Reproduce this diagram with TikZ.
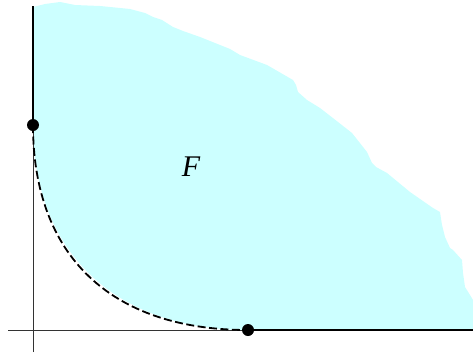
\documentclass[tikz,border=0pt]{standalone}
\usepackage{fontspec}
\newfontfamily\labelfont{Liberation Serif}
\usepackage{xcolor}
\usepackage{tikz}
\usetikzlibrary{positioning}
\definecolor{feasible}{RGB}{204,255,255}

\begin{document}
\begin{tikzpicture}[
  x=1pt,y=-1pt,
  axis/.style={line width=0.7pt,black!80},
  thickline/.style={line width=2.4pt,line cap=butt},
  frontier/.style={line width=1.8pt,dash pattern=on 8pt off 3.5pt},
  dot/.style={circle,fill=black,inner sep=0pt,minimum size=12pt},
]
\useasboundingbox (0,0) rectangle (473,356);

% Punkte und Achsenenden
\coordinate (ytop) at (33,6);
\coordinate (ybot) at (33,352);
\coordinate (xleft) at (8,330);
\coordinate (xright) at (473,330);
\coordinate (a) at (33,125);
\coordinate (b) at (248,330);

% zulaessige Menge
\fill[feasible] (b) .. controls (113,330) and (33,250) .. (a)
  -- (33,7) -- (45,4) -- (60,2) -- (75,5) -- (100,6) -- (130,9)
  -- (145,13) -- (153,17) -- (162,20) -- (173,27) -- (183,31)
  -- (200,37) -- (230,49) -- (240,55) -- (267,65) -- (293,80)
  -- (296,85) -- (298,92) -- (307,100) -- (320,108) -- (338,122)
  -- (352,133) -- (367,152) -- (372,163) -- (376,167) -- (387,173)
  -- (410,192) -- (433,208) -- (440,212) -- (442,225) -- (445,237)
  -- (450,248) -- (453,250) -- (462,260) -- (463,273) -- (465,287)
  -- (470,295) -- (473,300) -- (xright) -- cycle;

% Achsen
\draw[axis] (ybot) -- (ytop);
\draw[axis] (xleft) -- (xright);

% Rand
\draw[thickline] (ytop) -- (a);
\draw[thickline] (b) -- (xright);
\draw[frontier] (a) .. controls (33,255) and (110,330) .. (b);

\node[dot] (p1) at (a) {};
\node[dot] (p2) at (b) {};

\node[font=\labelfont\itshape\fontsize{30}{34}\selectfont] (F) at (191,167) {F};

\end{tikzpicture}
\end{document}
